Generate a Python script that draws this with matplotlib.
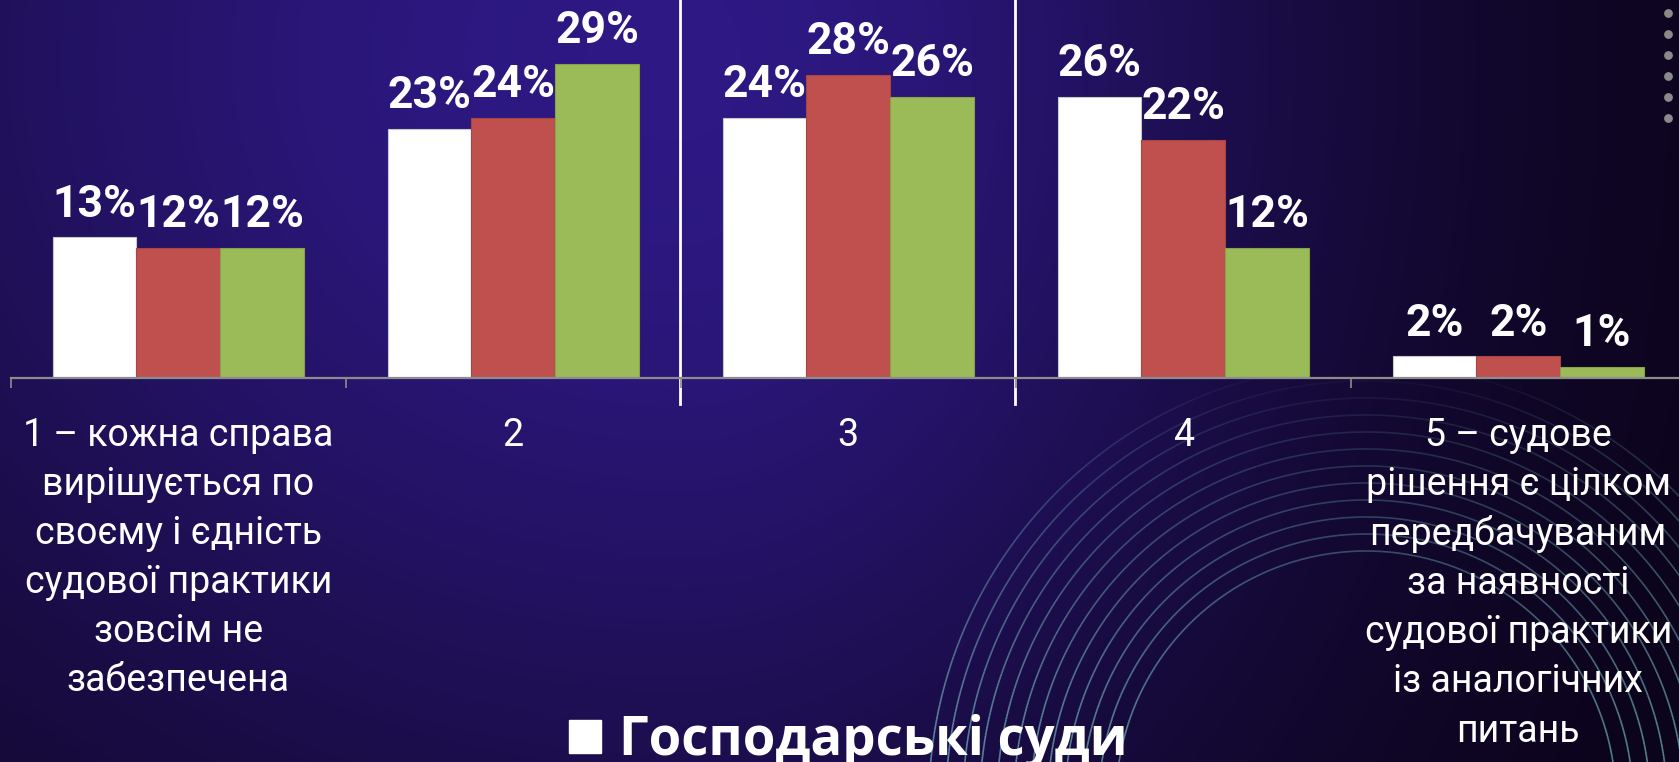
import numpy as np
import matplotlib.pyplot as plt
from matplotlib.patches import Rectangle
from matplotlib.collections import LineCollection

# data
categories = ['1 – кожна справа\nвирішується по\nсвоєму і єдність\nсудової практики\nзовсім не\nзабезпечена',
              '2', '3', '4',
              '5 – судове\nрішення є цілком\nпередбачуваним\nза наявності\nсудової практики\nіз аналогічних\nпитань']
series_white = [13, 23, 24, 26, 2]
series_red = [12, 24, 28, 22, 2]
series_green = [12, 29, 26, 12, 1]
legend_label = 'Господарські суди'

W, H = 1679, 762
fig = plt.figure(figsize=(W / 100, H / 100), dpi=100)

# background: purple glow, dark to the right
bg = fig.add_axes([0, 0, 1, 1])
bg.set_xlim(0, W)
bg.set_ylim(H, 0)
bg.axis('off')
xx, yy = np.meshgrid(np.arange(W), np.arange(H))
dx = xx - 680
sx = np.where(dx < 0, 1000, 650)
f = np.exp(-(dx / sx) ** 2 - ((yy - 60) / 850) ** 2)
bright = np.array([46, 25, 133]) / 255
dark = np.array([10, 3, 22]) / 255
img = dark + f[..., None] * (bright - dark)
bg.imshow(img, extent=(0, W, H, 0), aspect='auto', zorder=0)

# concentric arcs in the lower right
t = np.linspace(0, 2 * np.pi, 720)
for r in np.arange(250, 450, 17):
    px = 1366 + r * np.cos(t)
    py = 801 + r * np.sin(t)
    pts = np.column_stack([px, py])
    segs = np.stack([pts[:-1], pts[1:]], axis=1)
    ym = segs[:, :, 1].mean(axis=1)
    a = np.clip((ym - 370) / 360, 0, 1) ** 0.8 * 0.7
    cols = np.zeros((len(segs), 4))
    cols[:, :3] = [0.45, 0.70, 0.74]
    cols[:, 3] = a
    bg.add_collection(LineCollection(segs, colors=cols, linewidths=1.2, zorder=1))

# slide dots at right edge
bg.scatter([1668] * 6, [13, 34, 55, 76, 97, 118], s=28, color='#8a8a8a', zorder=2)

# white divider lines
for xv in (680, 1015):
    bg.plot([xv, xv], [0, 404], color='white', lw=2, zorder=2)

# main chart
ax = fig.add_axes([10.7 / W, (H - 378) / H, 1675 / W, 32 * 10.82 / H])
ax.patch.set_alpha(0)
x = np.arange(len(categories))
w = 0.25
b1 = ax.bar(x - w, series_white, w, color='white', edgecolor='#c8c8c8', lw=0.8, label=legend_label)
b2 = ax.bar(x, series_red, w, color='#c0504d', edgecolor='#a84441', lw=0.8)
b3 = ax.bar(x + w, series_green, w, color='#9bbb59', edgecolor='#86a348', lw=0.8)

for bars, vals in ((b1, series_white), (b2, series_red), (b3, series_green)):
    for rect, v in zip(bars, vals):
        ax.annotate(f'{v}%', (rect.get_x() + rect.get_width() / 2, v),
                    xytext=(0, 15), textcoords='offset points', ha='center', va='baseline',
                    fontsize=32, fontweight='bold', family='Roboto', color='white',
                    annotation_clip=False)

ax.set_xlim(-0.5, 4.5)
ax.set_ylim(0, 32)
for s in ('left', 'right', 'top'):
    ax.spines[s].set_visible(False)
ax.spines['bottom'].set_color('#8c8c8c')
ax.spines['bottom'].set_linewidth(1.6)
ax.set_yticks([])
ax.set_xticks(np.arange(-0.5, 5, 1))
ax.set_xticklabels([])
ax.tick_params(axis='x', which='major', length=7.5, width=1.2, color='#8c8c8c')
ax.set_xticks(x, minor=True)
ax.set_xticklabels(categories, minor=True, fontsize=27, family='Roboto', color='white',
                   linespacing=1.415)
ax.tick_params(axis='x', which='minor', length=0, pad=28)

# legend (only the first entry is visible on the slide)
fig.patches.append(Rectangle((569 / W, (H - 753) / H), 32 / W, 33 / H,
                             transform=fig.transFigure, color='white'))
fig.text(619 / W, (H - 755) / H, legend_label, fontsize=38, fontweight='bold',
         family='Open Sans', color='white', va='baseline', ha='left')

fig.savefig('out.png', dpi=100)
